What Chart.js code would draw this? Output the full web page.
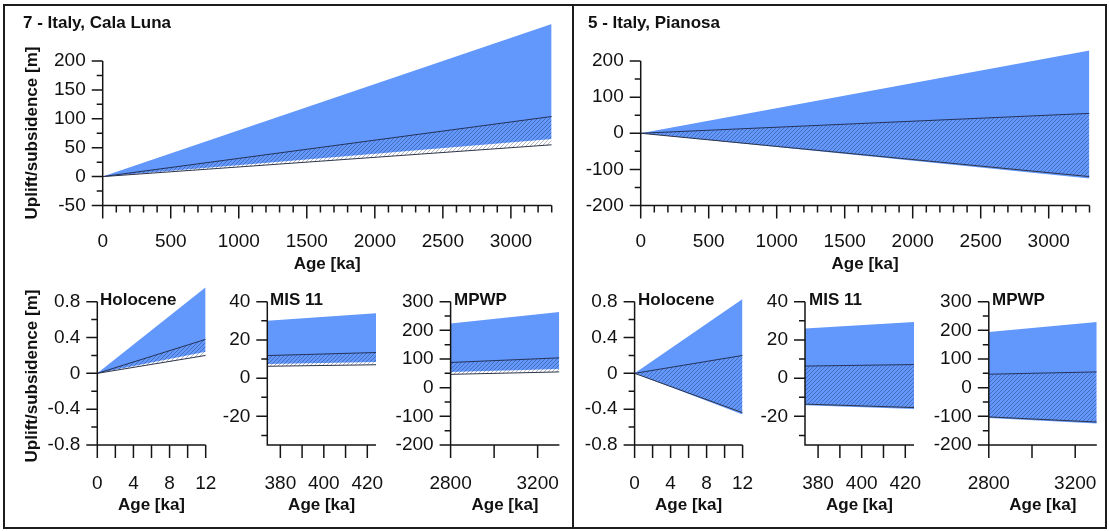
<!DOCTYPE html>
<html>
<head>
<meta charset="utf-8">
<script src="https://cdn.jsdelivr.net/npm/chart.js@4.4.0/dist/chart.umd.min.js"></script>
<style>
  html, body { margin: 0; padding: 0; background: #fff; }
  #fig { position: relative; width: 1109px; height: 531px; overflow: hidden; font-family: "Liberation Sans", Arial, Helvetica, sans-serif; }
  #fig canvas { position: absolute; left: 0; top: 0; }
  .frame { position: absolute; border: 2px solid #1c1c1c; box-sizing: border-box; }
  .lbl { position: absolute; font-weight: bold; font-size: 17px; color: #111; white-space: nowrap; line-height: 1; transform: translateY(-50%); }
  .ytitle { transform: translate(-50%, -50%) rotate(-90deg); }
</style>
</head>
<body>
<div id="fig">
  <div class="frame" style="left:3px; top:4px; width:1104px; height:525px;"></div>
  <div class="frame" style="left:572px; top:4px; width:2px; height:525px; border-width:0 0 0 2px;"></div>

  <canvas id="c0" width="1109" height="531"></canvas>
  <canvas id="c1" width="1109" height="531"></canvas>
  <canvas id="c2" width="1109" height="531"></canvas>
  <canvas id="c3" width="1109" height="531"></canvas>
  <canvas id="c4" width="1109" height="531"></canvas>
  <canvas id="c5" width="1109" height="531"></canvas>
  <canvas id="c6" width="1109" height="531"></canvas>
  <canvas id="c7" width="1109" height="531"></canvas>

  <div class="lbl" style="left:23px; top:22px;">7 - Italy, Cala Luna</div>
  <div class="lbl" style="left:588px; top:22px;">5 - Italy, Pianosa</div>
  <div class="lbl ytitle" style="left:31px; top:133px;">Uplift/subsidence [m]</div>
  <div class="lbl ytitle" style="left:31px; top:376px;">Uplift/subsidence [m]</div>
  <div class="lbl" style="left:100px; top:299px;">Holocene</div>
  <div class="lbl" style="left:270px; top:299px;">MIS 11</div>
  <div class="lbl" style="left:454px; top:299px;">MPWP</div>
  <div class="lbl" style="left:638px; top:299px;">Holocene</div>
  <div class="lbl" style="left:809px; top:299px;">MIS 11</div>
  <div class="lbl" style="left:992px; top:299px;">MPWP</div>
</div>
<script>
const FONT = '"Liberation Sans", Arial, Helvetica, sans-serif';
const BLUE = '#6297fb';

// age windows: full record, Holocene, MIS 11, MPWP
const windowAges = [[0, 3300], [0, 12], [374, 424], [2800, 3300]];
const ageTicks = [[0, 500, 1000, 1500, 2000, 2500, 3000], [0, 4, 8, 12], [380, 400, 420], [2800, 3200]];

// 7 - Cala Luna (m), values at both ends of each window
const calaBlueHigh = [[0, 264], [0, 0.96], [30, 34], [224, 264]];
const calaBlueLow = [[0, 65], [0, 0.24], [7.4, 8.4], [55, 65]];
const calaHatchHigh = [[0, 104], [0, 0.38], [11.8, 13.4], [88, 104]];
const calaHatchLow = [[0, 55], [0, 0.2], [6.2, 7.0], [46.5, 55]];

// 5 - Pianosa (m)
const pianBlueHigh = [[0, 229], [0, 0.83], [26, 29.4], [194, 229]];
const pianBlueLow = [[0, -125], [0, -0.46], [-14.2, -16.1], [-106, -125]];
const pianHatchHigh = [[0, 55], [0, 0.2], [6.3, 7.1], [47, 55]];
const pianHatchLow = [[0, -120], [0, -0.44], [-13.6, -15.4], [-102, -120]];

// y tick labels and axis ranges
const calaYTicks = [[-50, 0, 50, 100, 150, 200], [-0.8, -0.4, 0, 0.4, 0.8], [-20, 0, 20, 40], [-200, -100, 0, 100, 200, 300]];
const pianYTicks = [[-200, -100, 0, 100, 200], [-0.8, -0.4, 0, 0.4, 0.8], [-20, 0, 20, 40], [-200, -100, 0, 100, 200, 300]];
const calaYRange = [[-50, 200], [-0.8, 0.8], [-35, 40], [-200, 300]];
const pianYRange = [[-200, 200], [-0.8, 0.8], [-35, 40], [-200, 300]];
// headroom above the last tick, bands run past it
const calaYView = [280, 1.0, 40, 300];
const pianYView = [250, 1.0, 40, 300];
const calaYMinor = [25, 0.2, 10, 50];
const pianYMinor = [50, 0.2, 10, 50];
const ageMinor = [100, 2, 10, 200];
const ageMinorLong = [false, true, true, true];

// plot boxes in page pixels: [x at min age, x at max age, y at top tick, y at bottom]
const calaBoxes = [[102.7, 551.7, 61, 205.5], [97.3, 205.7, 301.7, 445], [267.3, 376, 301.7, 445], [450.6, 559.4, 301.7, 445]];
const pianBoxes = [[640.7, 1089.5, 61, 205.5], [634.6, 742.6, 301.7, 445], [805, 914, 301.7, 445], [988.8, 1096.8, 301.7, 445]];
const Y_SCALE_W = 90;

function hatch(ctx) {
    const c = document.createElement('canvas');
    c.width = 4; c.height = 4;
    const g = c.getContext('2d');
    g.strokeStyle = 'rgba(20,30,65,0.42)';
    g.lineWidth = 0.8;
    g.beginPath();
    g.moveTo(0, 4); g.lineTo(4, 0);
    g.moveTo(-1, 1); g.lineTo(1, -1);
    g.moveTo(3, 5); g.lineTo(5, 3);
    g.stroke();
    return ctx.createPattern(c, 'repeat');
}

function steps(min, max, step) {
    const out = [];
    const start = Math.ceil(min / step - 1e-9);
    for (let i = start; i * step <= max + 1e-9; i++) out.push(+(i * step).toFixed(6));
    return out;
}

// axis lines and tick marks in the paper style (long majors, short minors)
const paperAxes = {
    id: 'paperAxes',
    afterDraw(chart, args, o) {
        const {ctx, chartArea: a} = chart;
        const xs = chart.scales.x, ys = chart.scales.y;
        ctx.save();
        ctx.strokeStyle = '#151515';
        ctx.lineWidth = 1.5;
        ctx.beginPath();
        ctx.moveTo(a.left, ys.getPixelForValue(o.yMax));
        ctx.lineTo(a.left, a.bottom);
        ctx.lineTo(a.right, a.bottom);
        steps(o.yMin, o.yMax, o.yMinor).forEach(v => {
            const p = ys.getPixelForValue(v);
            const major = o.yTicks.some(t => Math.abs(t - v) < 1e-6);
            ctx.moveTo(a.left - (major ? 11 : 6), p);
            ctx.lineTo(a.left, p);
        });
        steps(o.xMin, o.xMax, o.xMinor).forEach(v => {
            const p = xs.getPixelForValue(v);
            const major = o.xMinorLong || o.xTicks.some(t => Math.abs(t - v) < 1e-6);
            ctx.moveTo(p, a.bottom);
            ctx.lineTo(p, a.bottom + (major ? 13 : 7));
        });
        ctx.stroke();
        ctx.restore();
    }
};

function drawPanel(id, w, box, yRange, yView, yTicks, yMinor, bandHigh, bandLow, hatchHigh, hatchLow) {
    const [xl, xr, yt, yb] = box;
    const ages = windowAges[w];
    const ppu = (yb - yt) / (yRange[1] - yRange[0]);
    const top = yt - (yView - yRange[1]) * ppu;
    const titleH = w === 0 ? 68.7 : 71;
    const ctx = document.getElementById(id).getContext('2d');
    const pts = arr => ages.map((a, i) => ({x: a, y: arr[i]}));
    const tickFont = {family: FONT, size: 19};
    const noPad = s => { s.paddingTop = 0; s.paddingBottom = 0; s.paddingLeft = 0; s.paddingRight = 0; };

    new Chart(ctx, {
        type: 'line',
        data: {
            datasets: [
                {data: pts(hatchHigh), borderColor: '#24335a', borderWidth: 1, fill: '+1', backgroundColor: hatch(ctx)},
                {data: pts(hatchLow), borderColor: '#2f3648', borderWidth: 1, fill: false},
                {data: pts(bandHigh), borderColor: 'rgba(0,0,0,0)', borderWidth: 0, fill: '+1', backgroundColor: BLUE},
                {data: pts(bandLow), borderColor: 'rgba(0,0,0,0)', borderWidth: 0, fill: false}
            ]
        },
        options: {
            responsive: false,
            animation: false,
            devicePixelRatio: 1,
            events: [],
            layout: {padding: {left: xl - Y_SCALE_W, right: 1109 - xr, top: top, bottom: 531 - yb - titleH}},
            elements: {point: {radius: 0}, line: {tension: 0}},
            plugins: {
                legend: {display: false},
                tooltip: {enabled: false},
                paperAxes: {
                    yMin: yRange[0], yMax: yRange[1], yMinor: yMinor, yTicks: yTicks,
                    xMin: ages[0], xMax: ages[1], xMinor: ageMinor[w], xMinorLong: ageMinorLong[w], xTicks: ageTicks[w]
                }
            },
            scales: {
                x: {
                    type: 'linear',
                    min: ages[0],
                    max: ages[1],
                    afterBuildTicks: s => { s.ticks = ageTicks[w].map(v => ({value: v})); },
                    afterFit: s => { s.height = titleH; noPad(s); },
                    grid: {display: false, drawTicks: false},
                    border: {display: false},
                    ticks: {autoSkip: false, maxRotation: 0, padding: w === 0 ? 25 : 27, color: '#111', font: tickFont, callback: v => String(v)},
                    title: {display: true, text: 'Age [ka]', color: '#111', padding: 0, font: {family: FONT, size: 17, weight: 'bold'}}
                },
                y: {
                    type: 'linear',
                    min: yRange[0],
                    max: yView,
                    afterBuildTicks: s => { s.ticks = yTicks.map(v => ({value: v})); },
                    afterFit: s => { s.width = Y_SCALE_W; noPad(s); },
                    grid: {display: false, drawTicks: false},
                    border: {display: false},
                    ticks: {autoSkip: false, padding: 17, color: '#111', font: tickFont, callback: v => String(v)}
                }
            }
        },
        plugins: [paperAxes]
    });
}

for (let w = 0; w < 4; w++) {
    drawPanel('c' + w, w, calaBoxes[w], calaYRange[w], calaYView[w], calaYTicks[w], calaYMinor[w],
        calaBlueHigh[w], calaBlueLow[w], calaHatchHigh[w], calaHatchLow[w]);
    drawPanel('c' + (w + 4), w, pianBoxes[w], pianYRange[w], pianYView[w], pianYTicks[w], pianYMinor[w],
        pianBlueHigh[w], pianBlueLow[w], pianHatchHigh[w], pianHatchLow[w]);
}
</script>
</body>
</html>
